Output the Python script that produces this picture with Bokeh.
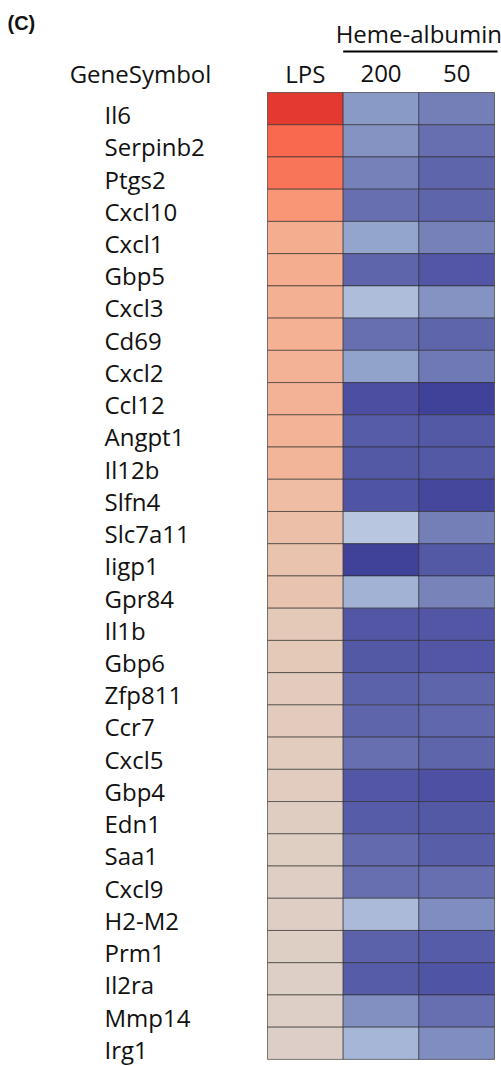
import numpy as np
from bokeh.plotting import figure
from bokeh.models import Range1d, ColumnDataSource, LinearColorMapper, Label
from bokeh.core.properties import value
from bokeh.embed import file_html
from bokeh.resources import INLINE

# ---------------- data ----------------
panel_label = "(C)"
row_header = "GeneSymbol"
group_label = "Heme-albumin"
conditions = ["LPS", "200", "50"]
genes = ["Il6", "Serpinb2", "Ptgs2", "Cxcl10", "Cxcl1", "Gbp5", "Cxcl3", "Cd69",
         "Cxcl2", "Ccl12", "Angpt1", "Il12b", "Slfn4", "Slc7a11", "Iigp1", "Gpr84",
         "Il1b", "Gbp6", "Zfp811", "Ccr7", "Cxcl5", "Gbp4", "Edn1", "Saa1", "Cxcl9",
         "H2-M2", "Prm1", "Il2ra", "Mmp14", "Irg1"]
lps = [3.0, 2.5, 2.35, 1.95, 1.5, 1.5, 1.45, 1.42, 1.4, 1.38, 1.35, 1.3, 1.1, 1.0,
       0.85, 0.8, 0.6, 0.6, 0.5, 0.45, 0.4, 0.38, 0.3, 0.25, 0.22, 0.15, 0.12, 0.1,
       0.08, 0.05]
heme200 = [-1.2, -1.3, -1.6, -2.0, -1.05, -2.2, -0.7, -2.0, -1.1, -2.6, -2.35, -2.4,
           -2.5, -0.55, -2.9, -0.85, -2.45, -2.4, -2.25, -2.2, -2.0, -2.45, -2.35,
           -2.1, -2.0, -0.75, -2.25, -2.35, -1.35, -0.78]
heme50 = [-1.65, -2.0, -2.2, -2.2, -1.6, -2.45, -1.3, -2.2, -1.8, -2.9, -2.4, -2.4,
          -2.75, -1.65, -2.4, -1.55, -2.45, -2.45, -2.2, -2.15, -2.2, -2.55, -2.4,
          -2.3, -2.0, -1.4, -2.35, -2.5, -2.0, -1.4]

# ---------------- colour scale ----------------
anchor_vals = [-3, -2.5, -2, -1.5, -1, -0.5, 0, 0.5, 1, 1.5, 2, 2.5, 3]
anchor_cols = ["#3c3c96", "#5054a4", "#6870b0", "#7a86bc", "#96a8ce", "#bccae2",
               "#dcd0c8", "#e2cbbc", "#ecc0a8", "#f5ae90", "#f89474", "#f86a50",
               "#e23a30"]


def hex2rgb(h):
    return [int(h[i:i + 2], 16) for i in (1, 3, 5)]


rgb = np.array([hex2rgb(c) for c in anchor_cols], dtype=float)
grid = np.linspace(-3, 3, 256)
palette = []
for g in grid:
    r = np.interp(g, anchor_vals, rgb[:, 0])
    gg = np.interp(g, anchor_vals, rgb[:, 1])
    b = np.interp(g, anchor_vals, rgb[:, 2])
    palette.append("#%02x%02x%02x" % (int(round(r)), int(round(gg)), int(round(b))))
mapper = LinearColorMapper(palette=palette, low=-3, high=3)

# ---------------- layout ----------------
W, H = 501, 1066
col_px = 75.67
row_px = 32.23
left_px = 267
top_px = 92
x_range = Range1d(-left_px / col_px, (W - left_px) / col_px)
y_range = Range1d((H - top_px) / row_px, -top_px / row_px)

p = figure(width=W, height=H, x_range=x_range, y_range=y_range,
           output_backend="svg", toolbar_location=None, min_border=0)
p.axis.visible = False
p.grid.visible = False
p.outline_line_color = None
p.background_fill_color = "white"
p.border_fill_color = "white"

series = [lps, heme200, heme50]
xs, ys, vs = [], [], []
for ci, s in enumerate(series):
    for ri, v in enumerate(s):
        xs.append(ci + 0.5)
        ys.append(ri + 0.5)
        vs.append(v)
src = ColumnDataSource(dict(x=xs, y=ys, v=vs))
p.rect(x="x", y="y", width=1, height=1, source=src,
       fill_color={"field": "v", "transform": mapper},
       line_color="#2a2a2a", line_alpha=0.6, line_width=1)

FONT = value("Open Sans")
# gene labels
gsrc = ColumnDataSource(dict(x=[(104 - left_px) / col_px] * len(genes),
                             y=[i + 0.5 for i in range(len(genes))], t=genes))
p.text(x="x", y="y", text="t", source=gsrc, text_font=FONT,
       text_font_size=value("24px"), text_color="#111111",
       text_align="left", text_baseline="middle", y_offset=6)

# column headers
hy = (73 - top_px) / row_px
hsrc = ColumnDataSource(dict(x=[i + 0.5 for i in range(len(conditions))],
                             y=[hy] * len(conditions), t=conditions))
p.text(x="x", y="y", text="t", source=hsrc, text_font=FONT,
       text_font_size=value("24px"), text_color="#111111",
       text_align="center", text_baseline="middle")

# row header
p.text(x=[(140 - left_px) / col_px], y=[hy], text=[row_header], text_font=FONT,
       text_font_size=value("24px"), text_color="#111111",
       text_align="center", text_baseline="middle")

# group header and underline
p.text(x=[2.0], y=[(33 - top_px) / row_px], text=[group_label], text_font=FONT,
       text_font_size=value("24px"), text_color="#111111",
       text_align="center", text_baseline="middle")
uy = (51 - top_px) / row_px
p.segment(x0=[1.0], x1=[3.04], y0=[uy], y1=[uy], line_color="black", line_width=2)

# panel label
p.add_layout(Label(x=7, y=H - 22, x_units="screen", y_units="screen",
                   text=panel_label, text_font="Liberation Sans",
                   text_font_style="bold", text_font_size="20px",
                   text_baseline="middle", text_color="#111111"))

open("out.html", "w").write(file_html(p, INLINE))
